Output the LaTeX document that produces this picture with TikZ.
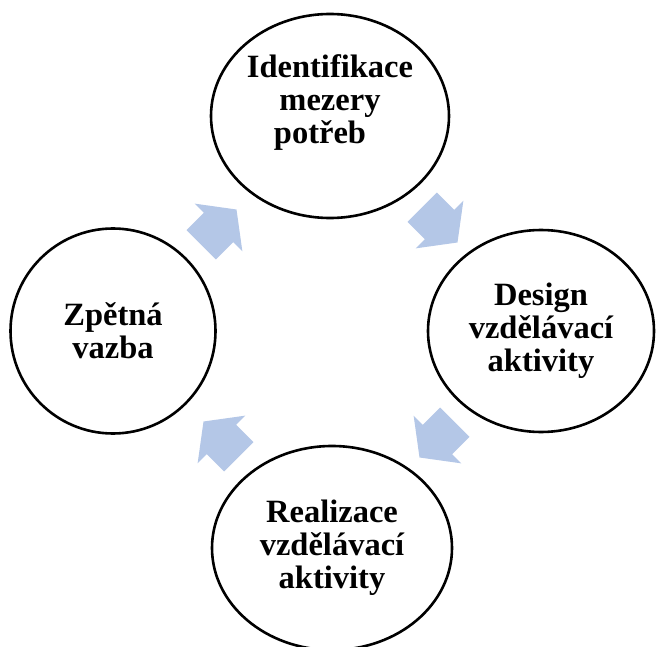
\documentclass[tikz,border=0pt]{standalone}
\usepackage{fontspec}
\setmainfont{Liberation Serif}
\usepackage{tikz}
\usetikzlibrary{shapes.geometric,shapes.arrows}
\definecolor{arrowblue}{RGB}{180,199,231}

\begin{document}
\begin{tikzpicture}
		[x=1pt, y=-1pt,
		bubble/.style={ellipse, draw=black, line width=2.6pt, inner sep=0pt,
			align=center, font=\fontsize{32.5}{33}\selectfont\bfseries},
		flow/.style={single arrow, fill=arrowblue, draw=none,
			inner xsep=0pt, inner ysep=20.5pt,
			minimum height=50pt, minimum width=67pt,
			single arrow head extend=13pt, single arrow tip angle=106,
			anchor=tail},
		]
		\useasboundingbox (0,0) rectangle (656,647);
		\node[bubble, minimum width=238pt, minimum height=204pt] (ident) at (330,116)
			{Identifikace\\mezery\\potřeb\rule{20pt}{0pt}\\\mbox{}};
		\node[bubble, minimum width=226pt, minimum height=202pt] (design) at (541,331)
			{Design\\vzdělávací\\aktivity};
		\node[bubble, minimum width=240pt, minimum height=204pt] (realiz) at (332,548)
			{Realizace\\vzdělávací\\aktivity};
		\node[bubble, minimum width=205pt, minimum height=205pt] (zpetna) at (113,331)
			{Zpětná\\vazba};
		% arrows of the cycle
		\foreach \name/\pos/\ang in {toident/{(201,245)}/45, todesign/{(422,207)}/-45,
			torealiz/{(455,422)}/-135, tozpetna/{(239,457)}/135}
			\node[flow, rotate=\ang] (\name) at \pos {};
	\end{tikzpicture}
\end{document}
